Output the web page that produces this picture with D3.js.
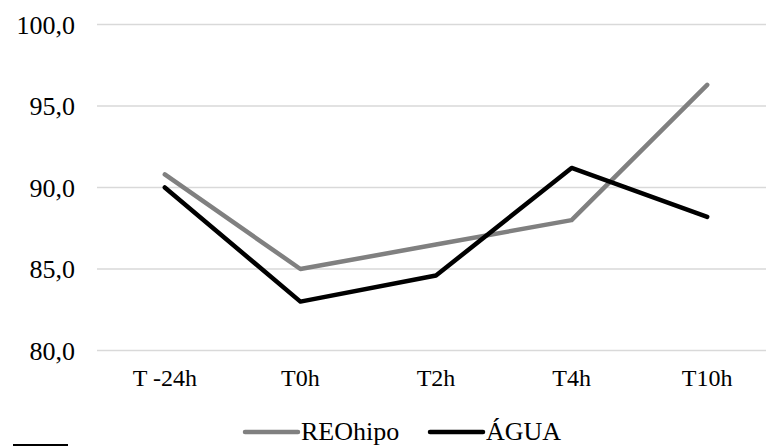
<!DOCTYPE html>
<html><head><meta charset="utf-8">
<script src="https://cdn.jsdelivr.net/npm/d3@7"></script>
</head><body style="margin:0">
<svg id="c" width="766" height="446" style="display:block" font-family="Liberation Serif"></svg>
<script>
const categories = ["T -24h", "T0h", "T2h", "T4h", "T10h"];
const reohipo = [90.8, 85.0, 86.5, 88.0, 96.3];
const agua = [90.0, 83.0, 84.6, 91.2, 88.2];
const yTicks = [80, 85, 90, 95, 100];
const seriesNames = ["REOhipo", "ÁGUA"];
const seriesColors = ["#808080", "#000000"];

const svg = d3.select("#c");
const x = d3.scalePoint().domain(categories).range([97, 775]).padding(0.5);
const y = d3.scaleLinear().domain([80, 100]).range([350.5, 24.5]);
const setFont = (sel, size) => sel.attr("font-family", "Liberation Serif")
  .style("font-family", '"Liberation Serif", "Times New Roman", serif')
  .attr("font-size", size).attr("fill", "#000");

// gridlines
svg.append("g").selectAll("line").data(yTicks).join("line")
  .attr("x1", 97).attr("x2", 775)
  .attr("y1", d => y(d)).attr("y2", d => y(d))
  .attr("stroke", "#d9d9d9").attr("stroke-width", 1.5);

// y labels
const fmt = d => d.toFixed(1).replace(".", ",");
svg.append("g").selectAll("text").data(yTicks).join("text")
  .attr("x", 75).attr("y", d => y(d) + 9)
  .attr("text-anchor", "end").call(setFont, 26).text(fmt);

// x labels
svg.append("g").selectAll("text").data(categories).join("text")
  .attr("x", d => x(d)).attr("y", 386)
  .attr("text-anchor", "middle").call(setFont, 24).text(d => d);

// lines
const line = d3.line().x((d, i) => x(categories[i])).y(d => y(d));
[reohipo, agua].forEach((s, k) => {
  svg.append("path").datum(s).attr("d", line)
    .attr("fill", "none").attr("stroke", seriesColors[k]).attr("stroke-width", 4.5)
    .attr("stroke-linecap", "round").attr("stroke-linejoin", "round");
});

// legend
const legX = [245, 430];
seriesNames.forEach((n, k) => {
  const g = svg.append("g");
  g.append("line").attr("x1", legX[k]).attr("x2", legX[k] + 53)
    .attr("y1", 432).attr("y2", 432)
    .attr("stroke", seriesColors[k]).attr("stroke-width", 4.5).attr("stroke-linecap", "round");
  g.append("text").attr("x", legX[k] + 56).attr("y", 440).call(setFont, 26).text(n);
});

// small mark at bottom-left
svg.append("line").attr("x1", 13).attr("x2", 68).attr("y1", 445).attr("y2", 445)
  .attr("stroke", "#000").attr("stroke-width", 2);
</script>
</body></html>
